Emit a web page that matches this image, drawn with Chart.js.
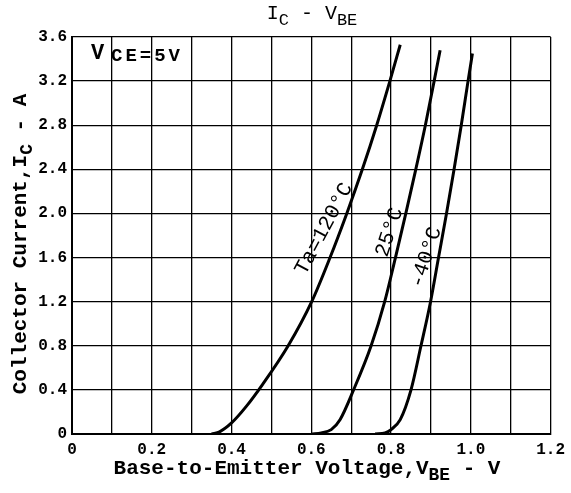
<!DOCTYPE html>
<html>
<head>
<meta charset="utf-8">
<script src="https://cdn.jsdelivr.net/npm/chart.js@4"></script>
<style>
  body { margin: 0; background: #fff; }
  canvas { display: block; }
</style>
</head>
<body>
<canvas id="icvbe" width="571" height="493"></canvas>
<script>
// I_C vs V_BE
const vbe120 = [0.35, 0.37, 0.40, 0.437, 0.478, 0.542, 0.601, 0.647, 0.689, 0.728, 0.764, 0.797, 0.823];
const ic120  = [0,    0.02, 0.10, 0.25,  0.45,  0.80,  1.20,  1.60,  2.00,  2.40,  2.80,  3.20,  3.53];

const vbe25 = [0.60, 0.625, 0.650, 0.672, 0.706, 0.750, 0.784, 0.811, 0.837, 0.862, 0.886, 0.908, 0.923];
const ic25  = [0,    0.01,  0.04,  0.13,  0.40,  0.80,  1.20,  1.60,  2.00,  2.40,  2.80,  3.20,  3.48];

const vbe40 = [0.76, 0.785, 0.800, 0.823, 0.850, 0.875, 0.899, 0.919, 0.939, 0.958, 0.976, 0.993, 1.004];
const ic40  = [0,    0.01,  0.04,  0.13,  0.40,  0.80,  1.20,  1.60,  2.00,  2.40,  2.80,  3.20,  3.45];

const curveLabels = ['Ta=120°C', '25°C', '-40°C'];
const xTickLabels = ['0', '', '0.2', '', '0.4', '', '0.6', '', '0.8', '', '1.0', '', '1.2'];
const yTickLabels = ['0', '0.4', '0.8', '1.2', '1.6', '2.0', '2.4', '2.8', '3.2', '3.6'];

const toPoints = (xs, ys) => xs.map((x, i) => ({ x: x, y: ys[i] }));

const MONO = '"Liberation Mono", "DejaVu Sans Mono", monospace';

// text with subscripts: parts = [[text, isSub], ...]
function drawParts(ctx, parts, size, weight, x, y) {
  let w = 0;
  parts.forEach(p => {
    ctx.font = `${weight} ${p[1] ? size * 0.85 : size}px ${MONO}`;
    w += ctx.measureText(p[0]).width;
  });
  let cx = x - w / 2;
  parts.forEach(p => {
    ctx.font = `${weight} ${p[1] ? size * 0.85 : size}px ${MONO}`;
    ctx.fillText(p[0], cx, p[1] ? y + size * 0.3 : y);
    cx += ctx.measureText(p[0]).width;
  });
}

const labelsPlugin = {
  id: 'labels',
  afterDraw(chart) {
    const ctx = chart.ctx;
    const xs = chart.scales.x, ys = chart.scales.y;
    ctx.save();
    ctx.fillStyle = '#000';
    ctx.textBaseline = 'middle';
    ctx.textAlign = 'left';

    // title
    drawParts(ctx, [['I', false], ['C', true], [' - V', false], ['BE', true]], 20, 'normal', 312, 14);

    // x axis title
    drawParts(ctx, [['Base-to-Emitter Voltage,V', false], ['BE', true], [' - V', false]], 21, 'bold', 307, 469);

    // y axis title
    ctx.save();
    ctx.translate(21, 244);
    ctx.rotate(-Math.PI / 2);
    drawParts(ctx, [['Collector Current,I', false], ['C', true], [' - A', false]], 21, 'bold', 0, 0);
    ctx.restore();

    // condition
    ctx.font = `bold 22px ${MONO}`;
    ctx.fillText('V', 91, 53);
    ctx.font = `bold 19px ${MONO}`;
    ctx.letterSpacing = '3px';
    ctx.fillText('CE=5V', 111, 56);
    ctx.letterSpacing = '0px';

    // curve labels
    const spots = [[0.632, 1.86, -62], [0.796, 1.83, -72], [0.888, 1.60, -72]];
    ctx.font = `normal 21px ${MONO}`;
    ctx.textAlign = 'center';
    spots.forEach((s, i) => {
      ctx.save();
      ctx.translate(xs.getPixelForValue(s[0]), ys.getPixelForValue(s[1]));
      ctx.rotate(s[2] * Math.PI / 180);
      ctx.fillText(curveLabels[i], 0, 0);
      ctx.restore();
    });
    ctx.restore();
  }
};

const curveStyle = {
  showLine: true,
  borderColor: '#000',
  borderWidth: 3,
  pointRadius: 0,
  cubicInterpolationMode: 'monotone',
  fill: false
};

new Chart(document.getElementById('icvbe').getContext('2d'), {
  type: 'scatter',
  data: {
    datasets: [
      { label: curveLabels[0], data: toPoints(vbe120, ic120), ...curveStyle },
      { label: curveLabels[1], data: toPoints(vbe25, ic25), ...curveStyle },
      { label: curveLabels[2], data: toPoints(vbe40, ic40), ...curveStyle }
    ]
  },
  options: {
    responsive: false,
    animation: false,
    layout: { padding: { top: 37, right: 12, left: 0, bottom: 0 } },
    plugins: {
      legend: { display: false },
      tooltip: { enabled: false }
    },
    scales: {
      x: {
        type: 'linear',
        min: 0,
        max: 1.2,
        afterFit: s => { s.height = 59; },
        afterBuildTicks: s => { s.ticks = xTickLabels.map((t, i) => ({ value: i / 10 })); },
        ticks: {
          color: '#000',
          padding: 6,
          maxRotation: 0,
          autoSkip: false,
          font: { family: MONO, size: 16, weight: 'bold' },
          callback: (v, i) => xTickLabels[i]
        },
        grid: { color: '#000', lineWidth: 1.3, drawTicks: false },
        border: { color: '#000', width: 2 }
      },
      y: {
        type: 'linear',
        min: 0,
        max: 3.6,
        afterFit: s => { s.width = 72; },
        afterBuildTicks: s => { s.ticks = yTickLabels.map(t => ({ value: parseFloat(t) })); },
        ticks: {
          color: '#000',
          padding: 5,
          autoSkip: false,
          font: { family: MONO, size: 16, weight: 'bold' },
          callback: (v, i) => yTickLabels[i]
        },
        grid: { color: '#000', lineWidth: 1.3, drawTicks: false },
        border: { color: '#000', width: 2 }
      }
    }
  },
  plugins: [labelsPlugin]
});
</script>
</body>
</html>
